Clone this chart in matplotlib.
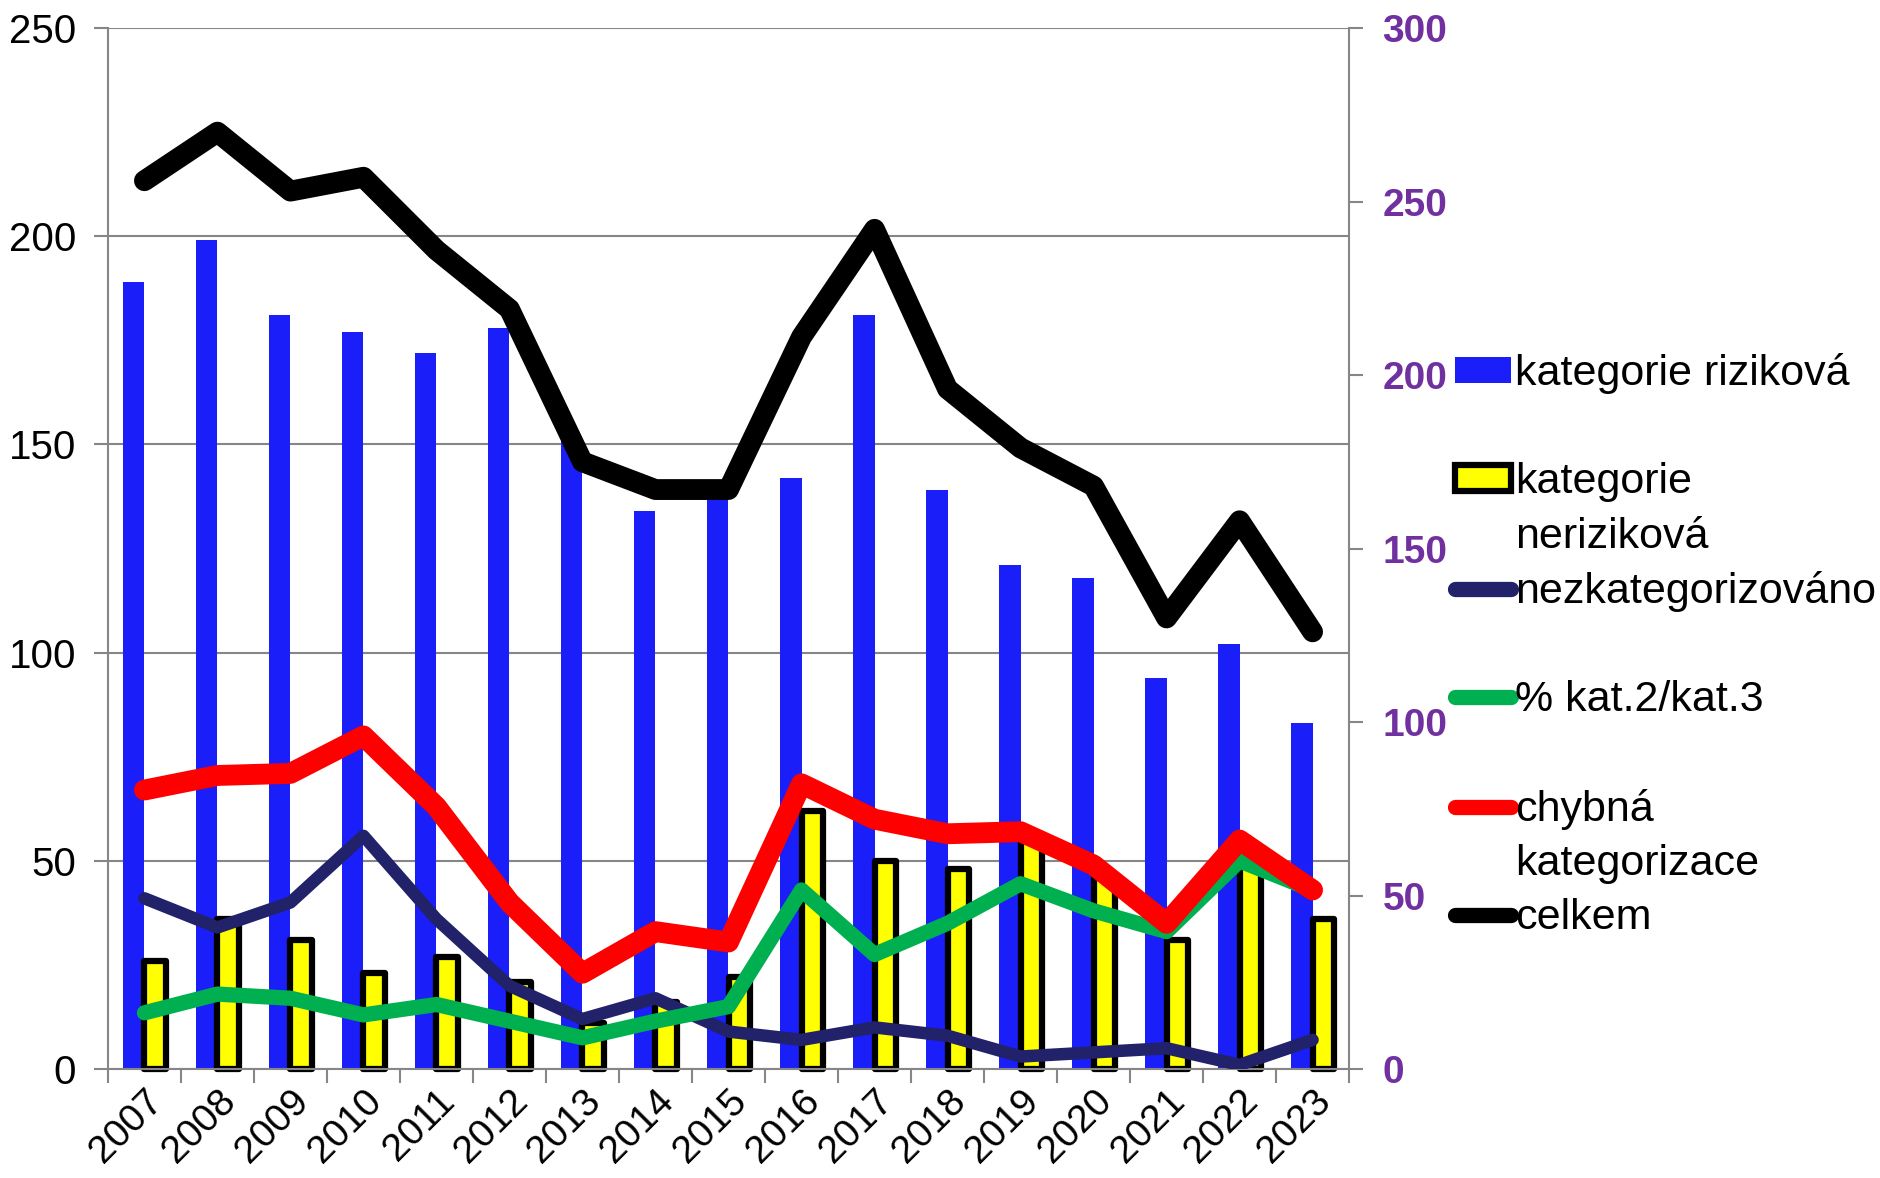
import numpy as np
import matplotlib
matplotlib.use("Agg")
import matplotlib.pyplot as plt
from matplotlib.lines import Line2D
from matplotlib.patches import Patch

plt.rcParams['font.family'] = ['Liberation Sans', 'DejaVu Sans']

# data
years = [str(y) for y in range(2007, 2024)]
rizikova = [189, 199, 181, 177, 172, 178, 152, 134, 137, 142, 181, 139, 121, 118, 94, 102, 83]
nerizikova = [26, 36, 31, 23, 27, 21, 11, 16, 22, 62, 50, 48, 55, 46, 31, 53, 36]
nezkategorizovano = [41, 34, 40, 56, 36, 20, 12, 17, 9, 7, 10, 8, 3, 4, 5, 1, 7]
pct_kat23 = [13.5, 18, 17, 13, 15.5, 11.5, 7.5, 11.5, 15, 43, 27.5, 35, 44.5, 38, 33, 50, 43]
chybna = [67, 70.5, 71, 80, 63, 40, 23, 33, 30.5, 68.5, 60, 56.5, 57, 49, 35, 55, 43]
celkem = [256, 270, 253, 257, 236, 219, 175, 167, 167, 211, 242, 196, 179, 168, 130, 158, 126]

grey = '#868686'
purple = '#7030A0'
c_blue = '#1A1EF8'
c_navy = '#22226A'
c_green = '#00B050'
c_red = '#FF0000'

fig = plt.figure(figsize=(18.8, 11.78), dpi=100)
ax = fig.add_subplot(111)
fig.subplots_adjust(left=0.0574, right=0.7176, bottom=0.0925, top=0.9762)

x = np.arange(len(years))
w = 0.29

ax.bar(x - w / 2, rizikova, width=w, color=c_blue, zorder=2)
ax.bar(x + w / 2, nerizikova, width=w, color='#FFFF00', edgecolor='black',
       linewidth=4.5, joinstyle='round', zorder=2, clip_on=False)

lkw = dict(solid_capstyle='round', solid_joinstyle='round')
ax.plot(x, nezkategorizovano, color=c_navy, lw=9, zorder=3, **lkw)
ax.plot(x, pct_kat23, color=c_green, lw=11, zorder=4, **lkw)
ax.plot(x, chybna, color=c_red, lw=15, zorder=5, **lkw)

ax.set_xlim(-0.5, len(years) - 0.5)
ax.set_ylim(0, 250)
ax.set_yticks(np.arange(0, 251, 50))
ax.grid(axis='y', color=grey, lw=1.5, zorder=0)
ax.set_axisbelow(True)

ax.set_xticks(x)
ax.set_xticklabels(years, rotation=45, ha='right', va='top', rotation_mode='anchor')
ax.set_xticks(np.arange(-0.5, len(years), 1), minor=True)
ax.tick_params(axis='x', which='major', length=0, pad=10, labelsize=28)
ax.tick_params(axis='x', which='minor', length=10, width=1.5, color=grey, direction='out')
ax.tick_params(axis='y', length=10, width=1.5, color=grey, pad=13, labelsize=29)

for s in ['top', 'right']:
    ax.spines[s].set_visible(False)
for s in ['left', 'bottom']:
    ax.spines[s].set_color(grey)
    ax.spines[s].set_linewidth(1.5)

ax2 = ax.twinx()
ax2.plot(x, celkem, color='black', lw=15, zorder=6, **lkw)
ax2.set_ylim(0, 300)
ax2.set_yticks(np.arange(0, 301, 50))
ax2.tick_params(axis='y', length=10, width=1.5, color=grey, pad=14, labelsize=28,
                labelcolor=purple)
for lab in ax2.get_yticklabels():
    lab.set_fontweight('bold')
for s in ['top', 'left', 'bottom']:
    ax2.spines[s].set_visible(False)
ax2.spines['right'].set_color(grey)
ax2.spines['right'].set_linewidth(1.5)

# legend, with blank rows to mimic the spacing of the original
blank = Line2D([], [], color='none')
handles = [
    Patch(facecolor=c_blue, edgecolor='none'), blank,
    Patch(facecolor='#FFFF00', edgecolor='black', linewidth=4.5, joinstyle='round'), blank,
    Line2D([], [], color=c_navy, lw=11, **lkw), blank,
    Line2D([], [], color=c_green, lw=11, **lkw), blank,
    Line2D([], [], color=c_red, lw=11, **lkw), blank,
    Line2D([], [], color='black', lw=11, **lkw),
]
labels = ['kategorie riziková', ' ', 'kategorie', 'neriziková', 'nezkategorizováno', ' ',
          '% kat.2/kat.3', ' ', 'chybná', 'kategorizace', 'celkem']
fig.legend(handles, labels, loc='upper left', bbox_to_anchor=(1455 / 1880, 1 - 353 / 1178),
           frameon=False, fontsize=31, handlelength=1.3, handleheight=0.55,
           handletextpad=0.1, labelspacing=0.33, borderpad=0, borderaxespad=0)

fig.savefig('out.png', dpi=100)
